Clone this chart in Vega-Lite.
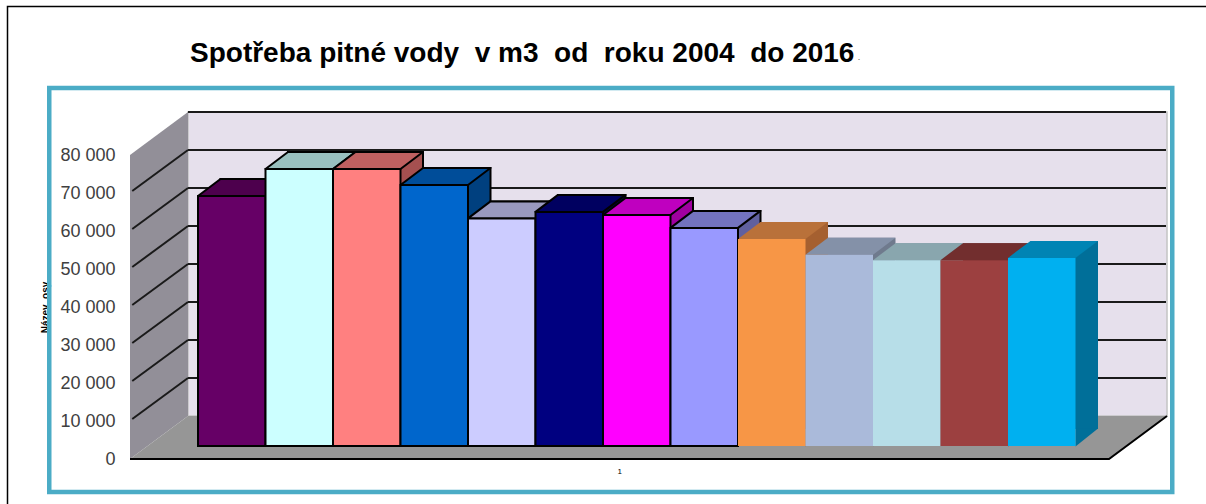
{
"$schema":"https://vega.github.io/schema/vega-lite/v6.json",
"width":1206,"height":504,"padding":0,"autosize":{"type":"none"},"background":"white",
"config":{"view":{"stroke":null},"font":"Liberation Sans"},
"title":{"text":"Spotřeba pitné vody\u00a0 v m3\u00a0 od\u00a0 roku 2004\u00a0 do 2016","anchor":"start","frame":"group","orient":"top","offset":0,"dx":190,"dy":68,"fontSize":28,"fontWeight":"bold","font":"Liberation Sans","color":"#000000"},
"datasets":{
"bary":[
{"rok":"2004","hodnota":65800},
{"rok":"2005","hodnota":72900},
{"rok":"2006","hodnota":72900},
{"rok":"2007","hodnota":68700},
{"rok":"2008","hodnota":59900},
{"rok":"2009","hodnota":61600},
{"rok":"2010","hodnota":60800},
{"rok":"2011","hodnota":57400},
{"rok":"2012","hodnota":54500},
{"rok":"2013","hodnota":50300},
{"rok":"2014","hodnota":48900},
{"rok":"2015","hodnota":48900},
{"rok":"2016","hodnota":49500}],
"mrizka":[{"hodnota":10000},{"hodnota":20000},{"hodnota":30000},{"hodnota":40000},{"hodnota":50000},{"hodnota":60000},{"hodnota":70000},{"hodnota":80000}],
"kotva":[{"hodnota":0}]
},
"data":{"name":"bary"},
"resolve":{"scale":{"fill":"independent"}},
"layer":[
{"data":{"name":"kotva"},"mark":{"type":"point","size":4,"filled":false,"stroke":"#000000","strokeWidth":1.5,"opacity":1,"shape":"M-629.25,58V-439.5H569.25"},
 "encoding":{"x":{"datum":"2010","type":"nominal","scale":{"type":"band","domain":["2004","2005","2006","2007","2008","2009","2010","2011","2012","2013","2014","2015","2016"],"range":[198,1075.5],"paddingInner":0,"paddingOuter":0},"axis":{"title":null,"values":["2010"],"labelExpr":"'1'","labelAngle":0,"domain":false,"ticks":false,"labelFontSize":8,"labelOffset":-17,"labelPadding":0,"offset":-37,"labelColor":"#000000"}},
 "y":{"field":"hodnota","type":"quantitative","scale":{"domain":[0,80000],"range":[446,142],"nice":false},"axis":{"title":"Název\u00a0 osy","titleFontSize":10,"titleFontWeight":"bold","titleColor":"#000000","titleAngle":270,"titleX":-65,"titleY":307,"titleAnchor":"middle","values":[0,10000,20000,30000,40000,50000,60000,70000,80000],"format":",d","labelExpr":"replace(datum.label,',',' ')","orient":"left","offset":-115,"domain":false,"ticks":false,"grid":false,"labelPadding":0,"labelOffset":13,"labelFontSize":18,"labelColor":"#404040","labelFont":"Liberation Sans"}}}},
{"data":{"name":"kotva"},"mark":{"type":"point","size":4,"filled":false,"stroke":"#4BACC6","strokeWidth":4.5,"opacity":1,"shape":"M-587.5,-358H535.5V46H-587.5Z"},
 "encoding":{"x":{"datum":"2010","type":"nominal"},"y":{"field":"hodnota","type":"quantitative"}}},
{"data":{"name":"kotva"},"mark":{"type":"point","size":4,"filled":true,"fill":"#E6E0EC","stroke":"#C4C4C4","strokeWidth":1.5,"opacity":1,"shape":"M-448.75,-334H530.25V-30H-448.75Z"},
 "encoding":{"x":{"datum":"2010","type":"nominal"},"y":{"field":"hodnota","type":"quantitative"}}},
{"data":{"name":"kotva"},"mark":{"type":"point","size":4,"filled":true,"fill":"#928F98","strokeWidth":0,"opacity":1,"shape":"M-506.75,13V-291L-448.75,-334V-30Z"},
 "encoding":{"x":{"datum":"2010","type":"nominal"},"y":{"field":"hodnota","type":"quantitative"}}},
{"data":{"name":"kotva"},"mark":{"type":"point","size":4,"filled":true,"fill":"#969696","strokeWidth":0,"opacity":1,"shape":"M-506.75,13H472.25L530.25,-30H-448.75Z"},
 "encoding":{"x":{"datum":"2010","type":"nominal"},"y":{"field":"hodnota","type":"quantitative"}}},
{"data":{"name":"mrizka"},"mark":{"type":"point","size":4,"filled":false,"stroke":"#1a1a1a","strokeWidth":2,"opacity":1,"shape":"M-448.75,-30H529.25"},
 "encoding":{"x":{"datum":"2010","type":"nominal"},"y":{"field":"hodnota","type":"quantitative"}}},
{"data":{"name":"mrizka"},"transform":[{"filter":"datum.hodnota<80000"}],"mark":{"type":"point","size":4,"filled":false,"stroke":"#1a1a1a","strokeWidth":2,"opacity":1,"shape":"M-504.5,11L-448.75,-30"},
 "encoding":{"x":{"datum":"2010","type":"nominal"},"y":{"field":"hodnota","type":"quantitative"}}},
{"data":{"name":"kotva"},"mark":{"type":"point","size":4,"filled":false,"stroke":"#000000","strokeWidth":2,"opacity":1,"shape":"M-506.75,13H472.25L530.25,-30"},
 "encoding":{"x":{"datum":"2010","type":"nominal"},"y":{"field":"hodnota","type":"quantitative"}}},
{"data":{"name":"kotva"},"mark":{"type":"text","text":".","fontSize":9,"color":"#555555","align":"left","baseline":"alphabetic","dx":221,"dy":-386},
 "encoding":{"x":{"datum":"2010","type":"nominal"},"y":{"field":"hodnota","type":"quantitative"}}},
{"mark":{"type":"bar","xOffset":22.5,"yOffset":-17,"y2Offset":-17,"strokeWidth":2},
 "encoding":{"x":{"field":"rok","type":"nominal"},"y":{"field":"hodnota","type":"quantitative","stack":null},"y2":{"datum":0},
 "fill":{"field":"rok","type":"nominal","legend":null,"scale":{"range":["#3F003F","#7F9F9F","#A55050","#00407F","#7F7F9F","#000050","#A000A0","#60609F","#A56030","#6F7A8D","#73929A","#602626","#006F99"]}},
 "stroke":{"condition":{"test":"datum.rok<='2011'","value":"#000000"},"value":"transparent"}}},
{"mark":{"type":"point","size":4,"filled":true,"strokeWidth":0,"opacity":1,"shape":"M33.75,0.5V-17.5L56.25,-17.5Z"},
 "encoding":{"x":{"field":"rok","type":"nominal"},"y":{"datum":0},
 "fill":{"field":"rok","type":"nominal","legend":null,"scale":{"range":["#3F003F","#7F9F9F","#A55050","#00407F","#7F7F9F","#000050","#A000A0","#60609F","#A56030","#6F7A8D","#73929A","#602626","#006F99"]}}}},
{"mark":{"type":"point","size":4,"filled":true,"opacity":1,"strokeWidth":2,"strokeJoin":"round","shape":"M-33.75,0H33.75L56.25,-17H-11.25Z"},
 "encoding":{"x":{"field":"rok","type":"nominal"},"y":{"field":"hodnota","type":"quantitative"},
 "fill":{"field":"rok","type":"nominal","legend":null,"scale":{"range":["#4D004D","#99C0BF","#BF6060","#004D99","#9999BF","#000060","#BF00BF","#7373BF","#B9713A","#8491A8","#89A6AE","#722E2E","#0084B4"]}},
 "stroke":{"condition":{"test":"datum.rok<='2011'","value":"#000000"},"value":"transparent"}}},
{"mark":{"type":"bar","strokeWidth":2},
 "encoding":{"x":{"field":"rok","type":"nominal"},"y":{"field":"hodnota","type":"quantitative","stack":null},
 "fill":{"field":"rok","type":"nominal","legend":null,"scale":{"range":["#660066","#CCFFFF","#FF8080","#0066CC","#CCCCFF","#000080","#FF00FF","#9999FF","#F79646","#AABADA","#B7DEE8","#9C4040","#00B0F0"]}},
 "stroke":{"condition":{"test":"datum.rok<='2011'","value":"#000000"},"value":"transparent"}}}
]
}
